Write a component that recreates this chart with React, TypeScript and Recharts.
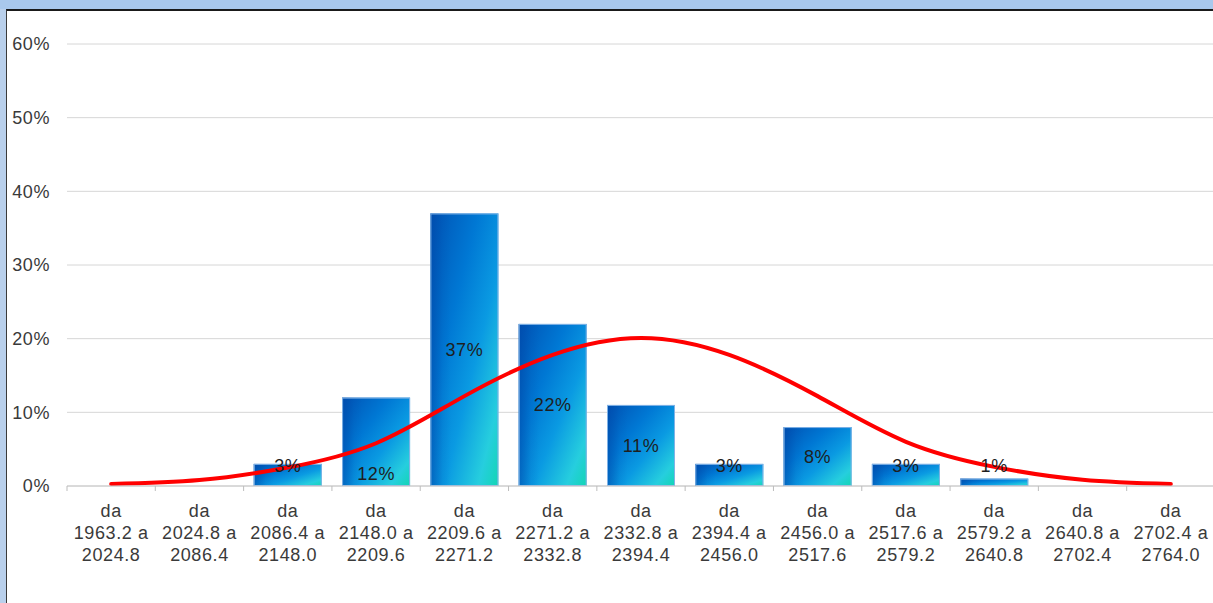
import React from 'react';
import { ComposedChart, Bar, Line, XAxis, YAxis, CartesianGrid, LabelList } from 'recharts';

const binFrom = ['1963.2', '2024.8', '2086.4', '2148.0', '2209.6', '2271.2', '2332.8', '2394.4', '2456.0', '2517.6', '2579.2', '2640.8', '2702.4'];
const binTo = ['2024.8', '2086.4', '2148.0', '2209.6', '2271.2', '2332.8', '2394.4', '2456.0', '2517.6', '2579.2', '2640.8', '2702.4', '2764.0'];
const frequency = [0, 0, 3, 12, 37, 22, 11, 3, 8, 3, 1, 0, 0];
const normalCurve = [0.27, 0.8, 2.5, 5.8, 12.2, 17.8, 20.1, 17.8, 12.2, 6.0, 2.6, 0.85, 0.27];
const yTicks = [0, 10, 20, 30, 40, 50, 60];

const data = binFrom.map((f, i) => ({
  name: `da ${f} a ${binTo[i]}`,
  from: f,
  to: binTo[i],
  freq: frequency[i],
  curve: normalCurve[i],
}));

const FONT = '"Liberation Sans", Arial, sans-serif';
const TEXT = '#3a3a3a';

const BarShape = (props: any) => {
  const { x, y, width, height } = props;
  if (!height || height <= 0) return null;
  return (
    <g>
      <rect x={x} y={y} width={width} height={height} fill="url(#barGrad)" />
      <rect x={x} y={y} width={width} height={height} fill="url(#barEdge)" />
      <rect x={x + 0.5} y={y + 0.5} width={width - 1} height={height - 1} fill="none" stroke="#7fb2e6" strokeWidth={1} />
    </g>
  );
};

const BarLabel = (props: any) => {
  const { x, y, width, height, value, index } = props;
  if (!value) return null;
  const bottom = y + height;
  let cy = Math.min(y + height / 2, bottom - 21);
  if (index === 3) cy = bottom - 13;
  return (
    <text x={x + width / 2} y={cy + 6.5} textAnchor="middle" fill="#1e1e1e" fontSize={18} fontFamily={FONT} letterSpacing={0.6}>
      {value}%
    </text>
  );
};

const XTick = (props: any) => {
  const { x, y, payload, index } = props;
  const d = data[index] || data.find((e) => e.name === payload.value);
  const half = payload.offset || 0;
  return (
    <g>
      <line x1={x - half} x2={x - half} y1={y} y2={y + 5} stroke="#bdbdbd" strokeWidth={1} />
      <text x={x} textAnchor="middle" fill={TEXT} fontSize={18} fontFamily={FONT} letterSpacing={0.6}>
        <tspan x={x} y={y + 30.5}>da</tspan>
        <tspan x={x} y={y + 52.5}>{d ? `${d.from} a` : ''}</tspan>
        <tspan x={x} y={y + 74.5}>{d ? d.to : ''}</tspan>
      </text>
    </g>
  );
};

export default function App() {
  return (
    <div style={{ position: 'absolute', left: 0, top: 0, width: 1213, height: 603, overflow: 'hidden', background: '#b9d0ec' }}>
      <div style={{ position: 'absolute', left: 0, top: 0, width: 1213, height: 9, background: '#a9c8ec' }} />
      <div
        style={{
          position: 'absolute',
          left: 6,
          top: 9,
          width: 1213,
          height: 600,
          background: '#ffffff',
          borderTop: '2px solid #1a1a1a',
          borderLeft: '1px solid #3a3a3a',
          boxSizing: 'border-box',
        }}
      />
      <div style={{ position: 'absolute', left: 0, top: 0 }}>
        <ComposedChart
          width={1215}
          height={603}
          data={data}
          margin={{ top: 44, right: 0, bottom: 0, left: 0 }}
          barCategoryGap="11.5%"
        >
          <defs>
            <linearGradient id="barGrad" x1="0" y1="0" x2="1" y2="1">
              <stop offset="0%" stopColor="#0052b4" />
              <stop offset="35%" stopColor="#0078d4" />
              <stop offset="60%" stopColor="#0a9ae2" />
              <stop offset="85%" stopColor="#26cede" />
              <stop offset="100%" stopColor="#12d6b4" />
            </linearGradient>
            <linearGradient id="barEdge" x1="0" y1="0" x2="1" y2="0">
              <stop offset="0%" stopColor="#0048a8" stopOpacity={0.55} />
              <stop offset="18%" stopColor="#0048a8" stopOpacity={0.1} />
              <stop offset="30%" stopColor="#0048a8" stopOpacity={0} />
              <stop offset="100%" stopColor="#0048a8" stopOpacity={0} />
            </linearGradient>
          </defs>
          <CartesianGrid vertical={false} stroke="#d6d6d6" strokeWidth={1} />
          <XAxis
            dataKey="name"
            height={117}
            interval={0}
            tickSize={0}
            tickMargin={0}
            tickLine={false}
            axisLine={{ stroke: '#c8c8c8' }}
            tick={<XTick />}
          />
          <YAxis
            width={67}
            domain={[0, 60]}
            ticks={yTicks}
            tickFormatter={(v: number) => `${v}%`}
            axisLine={false}
            tickLine={false}
            tickSize={0}
            tickMargin={17}
            tick={{ fill: TEXT, fontSize: 18, fontFamily: FONT, letterSpacing: 0.6 }}
          />
          <Bar dataKey="freq" shape={<BarShape />} isAnimationActive={false}>
            <LabelList dataKey="freq" content={<BarLabel />} />
          </Bar>
          <Line
            dataKey="curve"
            type="natural"
            stroke="#ff0000"
            strokeWidth={4}
            strokeLinecap="round"
            dot={false}
            activeDot={false}
            isAnimationActive={false}
          />
        </ComposedChart>
      </div>
    </div>
  );
}
